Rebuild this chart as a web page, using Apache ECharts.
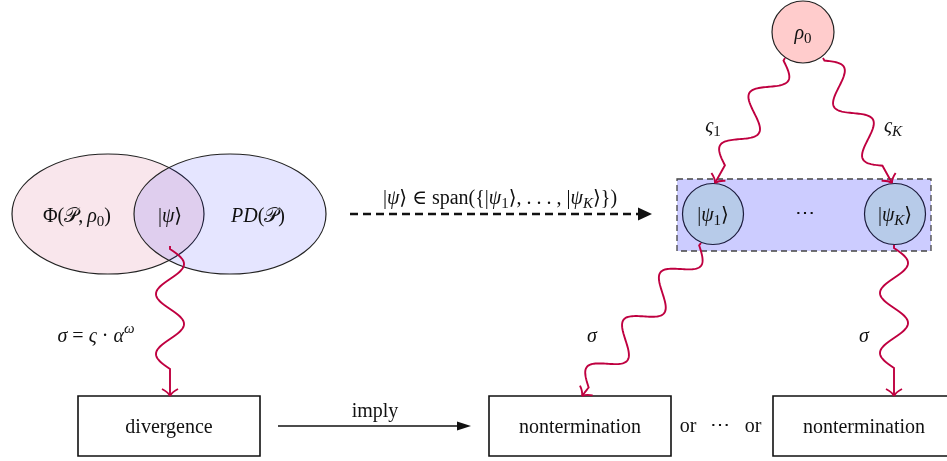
<!DOCTYPE html>
<html><head><meta charset="utf-8">
<script src="https://cdn.jsdelivr.net/npm/echarts@6/dist/echarts.min.js"></script>
<style>html,body{margin:0;padding:0;background:#fff}#c{width:947px;height:461px}</style>
</head><body><div id="c"></div>
<script>
// ---------- DATA (labels) ----------
const vennLabels = [
  [['Φ','r'],['(','r'],['𝒫','sc'],[',','r'],['\u2009','r'],['ρ','i'],['0','sb'],[')','r']],
  [['|','r'],['ψ','i'],['⟩','r']],
  [['P','i'],['D','i'],['(','r'],['𝒫','sc'],[')','r']]
];
const spanLabel = [['|','r'],['ψ','i'],['⟩','r'],[' ∈ ','r'],['span','r'],['({','r'],['|','r'],['ψ','i'],['1','sb'],['⟩','r'],[', . . . , ','r'],['|','r'],['ψ','i'],['K','sbi'],['⟩','r'],['})','r']];
const rootLabel = [['ρ','i'],['0','sb']];
const stateLabels = [
  [['|','r'],['ψ','i'],['1','sb'],['⟩','r']],
  [['|','r'],['ψ','i'],['K','sbi'],['⟩','r']]
];
const seedLabels = [[['ς','i'],['1','sb']], [['ς','i'],['K','sbi']]];
const sigmaLabels = [
  [['σ','i'],[' = ','r'],['ς','i'],[' · ','r'],['α','i'],['ω','spi']],
  [['σ','i']],
  [['σ','i']]
];
const boxLabels = ['divergence', 'nontermination', 'nontermination'];
const implyLabel = 'imply';
const orLabels = ['or', '⋯', 'or'];
const dotsLabel = '⋯';

// ---------- LAYOUT / STYLE ----------
const FAM = '"Liberation Serif", "DejaVu Serif", serif';
const FS = 20;
const TDY = 1.5; // small baseline correction for text
const INK = '#111';
const SNAKE = '#bf0040';
const ctx = document.createElement('canvas').getContext('2d');

function fontOf(type, size) {
  const it = (type === 'i' || type === 'sbi' || type === 'spi') ? 'italic ' : '';
  let sz = size;
  if (type.startsWith('sb') || type.startsWith('sp')) sz = Math.round(size * 0.74);
  let fam = FAM;
  if (type === 'sc') fam = '"DejaVu Sans", "DejaVu Serif", "Noto Sans", serif';
  return it + sz + 'px ' + fam;
}
function txt(t, x, y, font, align) {
  return {type: 'text', x: x, y: y + TDY, silent: true, z: 10,
    style: {text: t, font: font, fill: INK, textAlign: align || 'center', textVerticalAlign: 'middle', align: align || 'center', verticalAlign: 'middle'}};
}
function mathText(pieces, cx, cy, size) {
  const items = pieces.map(([t, ty]) => { const f = fontOf(ty, size); ctx.font = f; return {t, ty, f, w: ctx.measureText(t).width}; });
  const total = items.reduce((a, b) => a + b.w, 0);
  let x = cx - total / 2;
  const els = [];
  items.forEach(it => {
    let dy = 0;
    if (it.ty.startsWith('sb')) dy = size * 0.28;
    if (it.ty.startsWith('sp')) dy = -size * 0.36;
    els.push(txt(it.t, x, cy + dy, it.f, 'left'));
    x += it.w;
  });
  return els;
}
function snake(A, B, waves, amp, wl, pre) {
  amp = amp || 14; wl = wl || 60; pre = pre || 3;
  const dx = B[0] - A[0], dy = B[1] - A[1], len = Math.hypot(dx, dy);
  const d = [dx / len, dy / len], n = [d[1], -d[0]];
  const pts = [];
  const end = pre + waves * wl;
  for (let s = 0; s <= len; s += 1) {
    const off = (s > pre && s < end) ? amp * Math.sin(2 * Math.PI * (s - pre) / wl) : 0;
    pts.push([A[0] + d[0] * s + n[0] * off, A[1] + d[1] * s + n[1] * off]);
  }
  pts.push(B);
  const els = [{type: 'polyline', z: 5, silent: true, shape: {points: pts}, style: {stroke: SNAKE, lineWidth: 1.9, fill: null}}];
  [1, -1].forEach(sg => {
    const bx = B[0] - 7 * d[0] + sg * 8 * n[0], by = B[1] - 7 * d[1] + sg * 8 * n[1];
    const cx = B[0] - 4 * d[0] + sg * 2 * n[0], cy = B[1] - 4 * d[1] + sg * 2 * n[1];
    els.push({type: 'bezierCurve', z: 5, silent: true, shape: {x1: bx, y1: by, x2: B[0], y2: B[1], cpx1: cx, cpy1: cy}, style: {stroke: SNAKE, lineWidth: 1.9, fill: null}});
  });
  return els;
}

const E = [];
// Venn
E.push({type: 'ellipse', shape: {cx: 108, cy: 214, rx: 96, ry: 60}, style: {fill: '#f9e6ec', stroke: '#222', lineWidth: 1.2}});
E.push({type: 'ellipse', shape: {cx: 230, cy: 214, rx: 96, ry: 60}, style: {fill: 'rgba(0,0,255,0.1)', stroke: '#222', lineWidth: 1.2}});
const vennPos = [[77, 215], [170, 215], [258, 215]];
vennLabels.forEach((p, i) => E.push(...mathText(p, vennPos[i][0], vennPos[i][1], FS)));

// dashed arrow
E.push({type: 'line', shape: {x1: 350, y1: 214, x2: 640, y2: 214}, style: {stroke: '#111', lineWidth: 2.4, lineDash: [8, 5]}});
E.push({type: 'polygon', shape: {points: [[638, 207.5], [652, 214], [638, 220.5]]}, style: {fill: '#111'}});
E.push(...mathText(spanLabel, 500, 197, FS));

// right group
E.push({type: 'rect', shape: {x: 677, y: 179, width: 254, height: 72}, style: {fill: '#ccccff', stroke: '#444', lineWidth: 1.3, lineDash: [6, 4]}});
const statePos = [[713, 214], [895, 214]];
statePos.forEach((p, i) => {
  E.push({type: 'circle', shape: {cx: p[0], cy: p[1], r: 30.5}, style: {fill: '#b7cbe9', stroke: '#1c1c3c', lineWidth: 1.2}});
  E.push(...mathText(stateLabels[i], p[0], p[1], FS));
});
E.push(txt(dotsLabel, 805, 212, FS + 'px ' + FAM));
E.push({type: 'circle', shape: {cx: 803, cy: 32, r: 31}, style: {fill: '#ffcccc', stroke: '#222', lineWidth: 1.2}});
E.push(...mathText(rootLabel, 803, 32, FS));
const seedPos = [[713, 125], [893, 125]];
seedLabels.forEach((p, i) => E.push(...mathText(p, seedPos[i][0], seedPos[i][1], FS)));

// boxes
const boxRects = [[78, 396], [489, 396], [773, 396]];
boxRects.forEach((b, i) => {
  E.push({type: 'rect', shape: {x: b[0], y: b[1], width: 182, height: 60}, style: {fill: '#fff', stroke: '#111', lineWidth: 1.6}});
  E.push(txt(boxLabels[i], b[0] + 91, 426, FS + 'px ' + FAM));
});
// imply
E.push({type: 'line', shape: {x1: 278, y1: 426, x2: 460, y2: 426}, style: {stroke: '#111', lineWidth: 1.5}});
E.push({type: 'polygon', shape: {points: [[457, 421.5], [471, 426], [457, 430.5]]}, style: {fill: '#111'}});
E.push(txt(implyLabel, 375, 410, FS + 'px ' + FAM));
const orPos = [[688, 425], [720, 424], [753, 425]];
orLabels.forEach((t, i) => E.push(txt(t, orPos[i][0], orPos[i][1], FS + 'px ' + FAM)));
// sigma labels
const sigmaPos = [[96, 335], [592, 335], [864, 335]];
sigmaLabels.forEach((p, i) => E.push(...mathText(p, sigmaPos[i][0], sigmaPos[i][1], FS)));

// snakes
E.push(...snake([170, 246], [170, 396], 2));
E.push(...snake([785, 58], [715, 183], 2));
E.push(...snake([823, 58], [892, 183], 2));
E.push(...snake([701, 243], [582, 396], 3));
E.push(...snake([894, 245], [894, 396], 2));

const chart = echarts.init(document.getElementById('c'), null, {renderer: 'canvas'});
chart.setOption({backgroundColor: '#fff', animation: false, graphic: {elements: E}});
</script></body></html>
